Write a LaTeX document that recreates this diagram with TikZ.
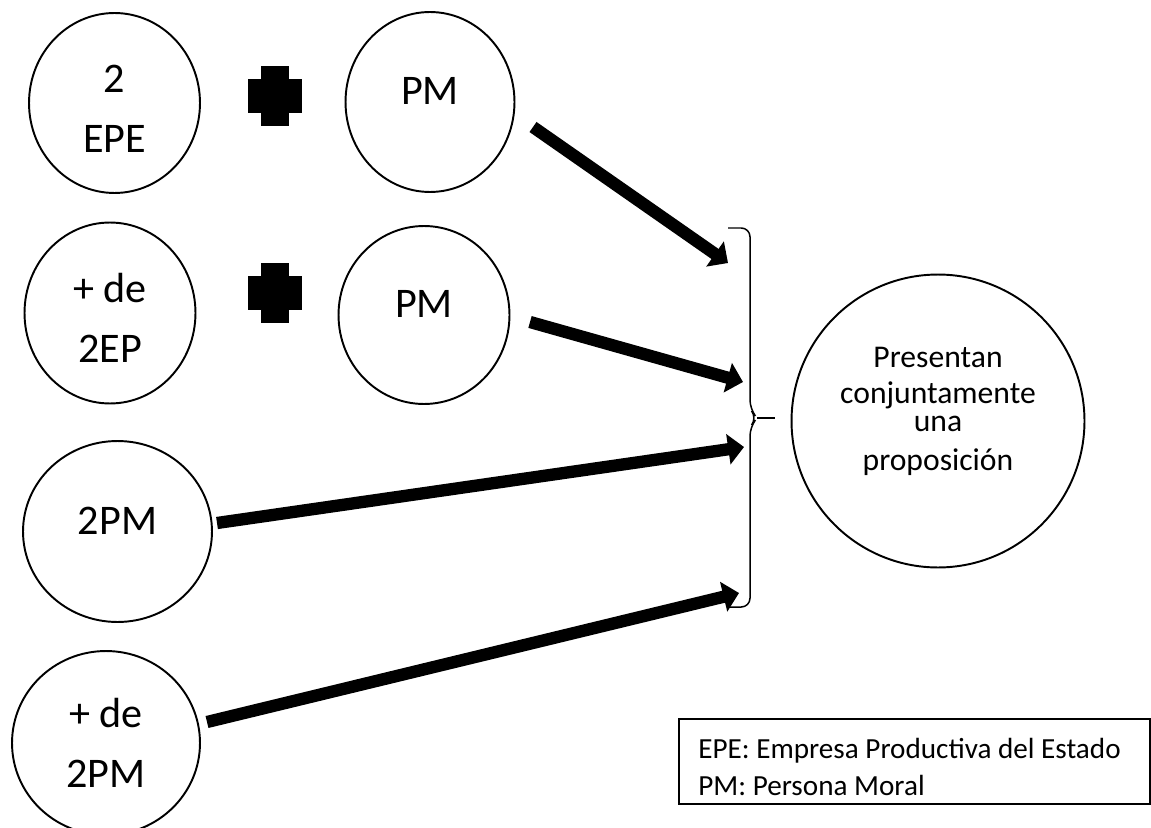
\documentclass[tikz,border=0pt]{standalone}
\usepackage{fontspec}
\setmainfont{Carlito}
\usetikzlibrary{shapes.geometric,arrows.meta}

\begin{document}
\begin{tikzpicture}[x=0.02cm,y=-0.02cm,
  ent/.style={ellipse,draw,line width=1.1pt,inner sep=0pt,align=center,
    font=\fontsize{24}{34}\selectfont},
  pm/.style={ent,text depth=0.44cm},
  flecha/.style={line width=7pt,-{Triangle[length=9pt,width=17pt]}}]
\useasboundingbox (0,0) rectangle (1151,827);

% entidades de la izquierda
\node [ent,minimum width=3.42cm,minimum height=3.6cm] (epe) at (114.5,103) {\rule{0pt}{22pt}2\\EPE};
\node [pm,minimum width=3.38cm,minimum height=3.6cm] (pma) at (430,102) {PM};
\node [ent,minimum width=3.42cm,minimum height=3.62cm] (masep) at (110,313) {\rule{0pt}{22pt}+ de\\2EP};
\node [pm,minimum width=3.42cm,minimum height=3.56cm] (pmb) at (424,315) {PM};
\node [pm,minimum width=3.78cm,minimum height=3.62cm] (dospm) at (117.5,531.5) {2PM};
\node [ent,minimum width=3.76cm,minimum height=3.68cm] (maspm) at (106,743) {+ de\\2PM};

% resultado
\node [circle,draw,line width=1.1pt,inner sep=0pt,minimum size=5.86cm,align=center,
  font=\fontsize{18}{20.4}\selectfont] (prop) at (938,421)
  {Presentan\\conjuntamente\\[-4.5pt]una\\[1.7pt]proposición\rule[-13.5pt]{0pt}{13.5pt}};

% signos de suma
\foreach \py in {96,293} {
  \fill (261,\py-30) rectangle (289,\py+30);
  \fill (248,\py-17) rectangle (302,\py+17);
}

% llave
\draw [line width=0.85pt,rounded corners=5pt] (728,228) -- (750,228) -- (750,409)
  -- (757,418) -- (750,427) -- (750,607) -- (728,607);
\draw [line width=0.85pt] (757,418) -- (775,418);

% flechas
\coordinate (t1) at (533,127);
\coordinate (p1) at (728,263);
\coordinate (t2) at (530,322);
\coordinate (p2) at (743,382);
\coordinate (t3) at (217,523);
\coordinate (p3) at (744,447);
\coordinate (t4) at (207,722);
\coordinate (p4) at (739,593);
\draw [flecha] (t1) -- (p1);
\draw [flecha] (t2) -- (p2);
\draw [flecha] (t3) -- (p3);
\draw [flecha] (t4) -- (p4);

% leyenda
\draw [line width=0.6pt] (679,719) rectangle (1150,804);
\node [anchor=base west,inner sep=0pt,font=\fontsize{16.6}{21}\selectfont] (leya) at (698,758)
  {EPE: Empresa Productiva del Estado};
\node [anchor=base west,inner sep=0pt,font=\fontsize{16.6}{21}\selectfont] (leyb) at (698,795)
  {PM: Persona Moral};
\end{tikzpicture}
\end{document}
